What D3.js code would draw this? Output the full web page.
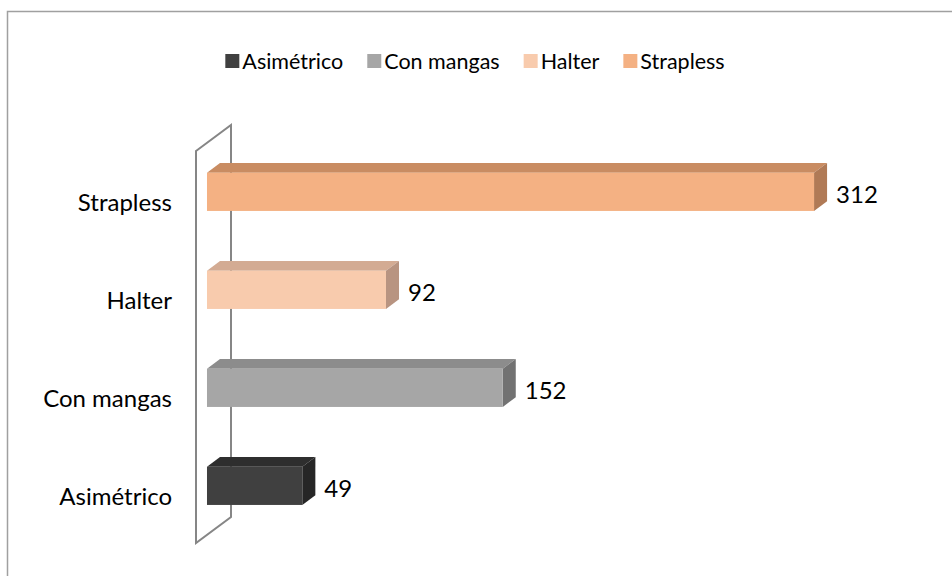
<!DOCTYPE html>
<html>
<head>
<meta charset="utf-8">
<script src="https://cdn.jsdelivr.net/npm/d3@7"></script>
<style>
  body { margin: 0; background: #fff; }
  svg { display: block; font-family: Lato, "Open Sans", sans-serif; }
</style>
</head>
<body>
<svg id="chart" width="952" height="576"></svg>
<script>
// data
const categories = ["Asimétrico", "Con mangas", "Halter", "Strapless"]
const values = [49, 152, 92, 312]
const frontColors = ["#404040", "#a6a6a6", "#f8cbad", "#f4b183"]
const topColors = ["#2e2e2e", "#8c8c8c", "#d3ab93", "#c98c62"]
const sideColors = ["#262626", "#727272", "#b89481", "#b07a56"]

const svg = d3.select("#chart")

// chart border (right and bottom edges fall outside the picture)
svg.append("rect")
    .attr("x", 7.5)
    .attr("y", 11.5)
    .attr("width", 1200)
    .attr("height", 1200)
    .attr("fill", "none")
    .attr("stroke", "#a0a0a0")
    .attr("stroke-width", 1.5)

// 3d setup: full wall depth vector and bar depth range
const depth = {dx: 35, dy: -26}
const f0 = 0.314, f1 = 0.686
const wallX = 196

const y = d3.scaleBand()
    .domain(categories.slice().reverse())
    .range([151, 543])
    .paddingInner(0)

const x = d3.scaleLinear()
    .domain([0, 350])
    .range([0, 681])

// back wall outline
const w = svg.append("g")
const y0 = y.range()[0], y1 = y.range()[1]
w.append("path")
    .attr("d", `M${wallX},${y0} L${wallX + depth.dx},${y0 + depth.dy} L${wallX + depth.dx},${y1 + depth.dy} L${wallX},${y1} Z`)
    .attr("fill", "none")
    .attr("stroke", "#868686")
    .attr("stroke-width", 2)

// category labels
svg.append("g").selectAll("text")
    .data(categories)
    .join("text")
    .attr("x", 172)
    .attr("y", d => y(d) + y.bandwidth() / 2 + 1)
    .attr("text-anchor", "end")
    .attr("dominant-baseline", "central")
    .attr("font-size", 24)
    .attr("fill", "#000")
    .text(d => d)

// bars
const barH = y.bandwidth() * 0.39
const bars = svg.append("g").selectAll("g")
    .data(categories)
    .join("g")

bars.each(function(d, i) {
    const g = d3.select(this)
    const fx = wallX + depth.dx * f0
    const fy = y(d) + y.bandwidth() / 2 + depth.dy * f0 - barH / 2
    const len = x(values[i])
    const ddx = depth.dx * (f1 - f0), ddy = depth.dy * (f1 - f0)
    // top face
    g.append("path")
        .attr("d", `M${fx},${fy} L${fx + ddx},${fy + ddy} L${fx + len + ddx},${fy + ddy} L${fx + len},${fy} Z`)
        .attr("fill", topColors[i])
    // side face
    g.append("path")
        .attr("d", `M${fx + len},${fy} L${fx + len + ddx},${fy + ddy} L${fx + len + ddx},${fy + ddy + barH} L${fx + len},${fy + barH} Z`)
        .attr("fill", sideColors[i])
    // front face
    g.append("rect")
        .attr("x", fx)
        .attr("y", fy)
        .attr("width", len)
        .attr("height", barH)
        .attr("fill", frontColors[i])
    // value label
    g.append("text")
        .attr("x", fx + len + ddx + 9)
        .attr("y", fy + barH / 2 + 2)
        .attr("dominant-baseline", "central")
        .attr("font-size", 24)
        .attr("fill", "#000")
        .text(values[i])
})

// legend
const legend = svg.append("g")
let lx = 0
const items = legend.selectAll("g")
    .data(categories)
    .join("g")
items.append("rect")
    .attr("y", -7)
    .attr("width", 14)
    .attr("height", 14)
    .attr("fill", (d, i) => frontColors[i])
items.append("text")
    .attr("x", 17)
    .attr("dominant-baseline", "central")
    .attr("font-size", 21.5)
    .text(d => d)
items.each(function() {
    const g = d3.select(this)
    g.attr("transform", `translate(${lx},0)`)
    lx += 17 + g.select("text").node().getComputedTextLength() + 24
})
lx -= 24
legend.attr("transform", `translate(${475 - lx / 2},61)`)
</script>
</body>
</html>
